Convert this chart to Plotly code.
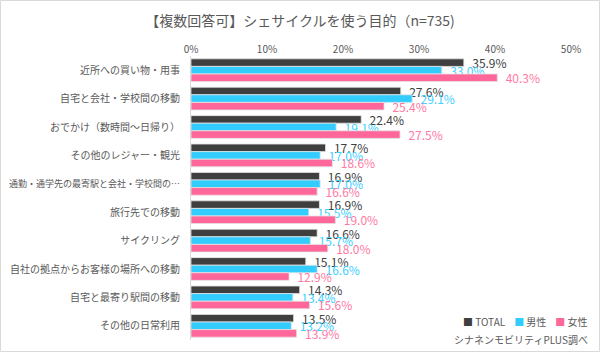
import plotly.graph_objects as go

categories = [
    "近所への買い物・用事",
    "自宅と会社・学校間の移動",
    "おでかけ（数時間～日帰り）",
    "その他のレジャー・観光",
    "通勤・通学先の最寄駅と会社・学校間の…",
    "旅行先での移動",
    "サイクリング",
    "自社の拠点からお客様の場所への移動",
    "自宅と最寄り駅間の移動",
    "その他の日常利用",
]
total = [35.9, 27.6, 22.4, 17.7, 16.9, 16.9, 16.6, 15.1, 14.3, 13.5]
male = [33.0, 29.1, 19.1, 17.0, 17.0, 15.5, 15.7, 16.6, 13.4, 13.2]
female = [40.3, 25.4, 27.5, 18.6, 16.6, 19.0, 18.0, 12.9, 15.6, 13.9]
series_names = ["TOTAL", "男性", "女性"]
tick_vals = [0, 10, 20, 30, 40, 50]
tick_text = ["0%", "10%", "20%", "30%", "40%", "50%"]

bar_colors = ["#3F3F3F", "#33CCFF", "#FF6699"]
text_colors = ["#404040", "#3ECFFF", "#FF79A3"]
FONT = "Noto Sans CJK JP"

W, H = 600, 352
L, R, T, B = 191, 29, 56, 12
pw, ph = W - L - R, H - T - B

# long category labels are drawn slightly smaller so they fit the left margin
cat_text = [c if len(c) <= 17 else "<span style='font-size:9px'>%s</span>" % c for c in categories]

fig = go.Figure()
for name, vals, bc, tc in zip(series_names, [total, male, female], bar_colors, text_colors):
    fig.add_trace(go.Bar(
        y=categories, x=vals, name=name, orientation="h",
        marker=dict(color=bc, line=dict(color="#E3E3E3", width=0.8)),
        text=["\u00a0\u00a0%.1f%%" % v for v in vals],
        textposition="outside", constraintext="none", cliponaxis=False,
        textfont=dict(family=FONT, size=12, color=tc),
        showlegend=False,
    ))

fig.update_layout(
    width=W, height=H,
    margin=dict(l=L, r=R, t=T, b=B, autoexpand=False),
    barmode="group", bargap=0.2, bargroupgap=0,
    paper_bgcolor="white", plot_bgcolor="white",
    font=dict(family=FONT, color="#595959"),
    title=dict(text="【複数回答可】シェサイクルを使う目的（n=735)",
               x=300 / W, xanchor="center", y=1 - 21 / H, yanchor="middle",
               font=dict(family=FONT, size=14, color="#595959")),
    xaxis=dict(range=[0, 50], side="top", tickvals=tick_vals, ticktext=tick_text,
               showgrid=False, zeroline=False, showline=False, ticks="",
               automargin=False,
               tickfont=dict(family=FONT, size=10, color="#595959")),
    yaxis=dict(autorange="reversed", showgrid=False, zeroline=False,
               showline=True, linecolor="#D9D9D9", linewidth=1, ticks="",
               tickmode="array", tickvals=categories, ticktext=cat_text,
               automargin=False, ticklabelstandoff=8,
               tickfont=dict(family=FONT, size=10, color="#595959")),
)

legend_txt = ("<span style='color:#3F3F3F'>■</span> TOTAL    "
              "<span style='color:#33CCFF'>■</span> 男性    "
              "<span style='color:#FF6699'>■</span> 女性")
fig.add_annotation(text=legend_txt, xref="paper", yref="paper",
                   x=(590 - L) / pw, y=(H - B - 321) / ph, xanchor="right", yanchor="middle",
                   showarrow=False, font=dict(family=FONT, size=10, color="#595959"))
fig.add_annotation(text="シナネンモビリティPLUS調べ", xref="paper", yref="paper",
                   x=(590 - L) / pw, y=(H - B - 339) / ph, xanchor="right", yanchor="middle",
                   showarrow=False, font=dict(family=FONT, size=10, color="#595959"))

fig.add_shape(type="rect", xref="paper", yref="paper",
              x0=(0.5 - L) / pw, x1=(W - 0.5 - L) / pw,
              y0=(H - B - (H - 0.5)) / ph, y1=(H - B - 0.5) / ph,
              line=dict(color="#D9D9D9", width=1), fillcolor="rgba(0,0,0,0)")

fig.write_html("out.html")
